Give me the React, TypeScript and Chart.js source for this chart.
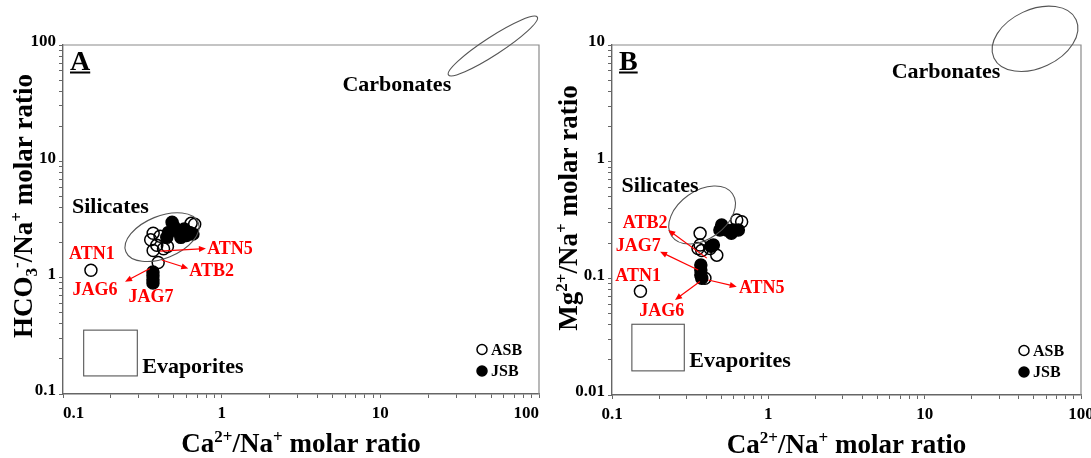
import React, { useEffect, useRef } from "react";
import { Chart, registerables } from "chart.js";

Chart.register(...registerables);

const FONT = "'Liberation Serif', 'Times New Roman', serif";

// ---------- shared ----------
const seriesNames = ["ASB", "JSB"];
const xMajorTicks = [0.1, 1, 10, 100];
const xTickLabels = ["0.1", "1", "10", "100"];
const aYMajorTicks = [0.1, 1, 10, 100];
const aYTickLabels = ["0.1", "1", "10", "100"];
const bYMajorTicks = [0.01, 0.1, 1, 10];
const bYTickLabels = ["0.01", "0.1", "1", "10"];
const regionNames = ["Silicates", "Carbonates", "Evaporites"];

// ---------- panel A : HCO3/Na vs Ca/Na ----------
const aAsbCa = [0.15, 0.37, 0.409, 0.357, 0.39, 0.37, 0.43, 0.398, 0.642, 0.676, 0.455];
const aAsbHco3 = [1.16, 2.41, 2.27, 2.12, 1.9, 1.71, 1.77, 1.35, 2.93, 2.88, 1.85];
const aJsbCa = [0.487, 0.451, 0.463, 0.525, 0.581, 0.627, 0.659, 0.553, 0.6, 0.5, 0.369, 0.369, 0.369, 0.369];
const aJsbHco3 = [2.99, 2.22, 2.45, 2.53, 2.62, 2.45, 2.37, 2.22, 2.3, 2.75, 1.12, 1.04, 0.96, 0.9];

const aSampleLabels = ["ATN1", "ATN5", "ATB2", "JAG6", "JAG7"];
const aSampleLabelX = [0.152, 1.128, 0.865, 0.159, 0.358];
const aSampleLabelY = [1.6, 1.76, 1.14, 0.782, 0.673];
const aArrowFromX = [0.409, 0.419, 0.353];
const aArrowFromY = [1.69, 1.42, 1.2];
const aArrowToX = [0.796, 0.616, 0.246];
const aArrowToY = [1.78, 1.2, 0.923];

const aRegionLabelX = [0.199, 12.7, 0.659];
const aRegionLabelY = [4.01, 45.3, 0.169];
// ellipses: centre (data), semi-axes (decades), rotation (deg)
const aSilicatesEllipse = [0.421, 2.23, 0.246, 0.181, -22];
const aCarbonatesEllipse = [51.2, 98.0, 0.334, 0.077, -33];
const aEvaporitesBox = [0.135, 0.294, 0.143, 0.354];

// ---------- panel B : Mg/Na vs Ca/Na ----------
const bAsbCa = [0.152, 0.366, 0.366, 0.375, 0.468, 0.424, 0.628, 0.675, 0.393, 0.355];
const bAsbMg = [0.0774, 0.243, 0.193, 0.173, 0.158, 0.18, 0.316, 0.306, 0.1, 0.18];
const bJsbCa = [0.503, 0.49, 0.541, 0.597, 0.58, 0.643, 0.445, 0.43, 0.37, 0.37, 0.37, 0.375];
const bJsbMg = [0.287, 0.26, 0.26, 0.26, 0.243, 0.26, 0.193, 0.188, 0.13, 0.118, 0.107, 0.1];

const bSampleLabels = ["ATB2", "JAG7", "ATN1", "ATN5", "JAG6"];
const bSampleLabelX = [0.163, 0.147, 0.147, 0.908, 0.208];
const bSampleLabelY = [0.296, 0.187, 0.1035, 0.0822, 0.0519];
const bArrowFromX = [0.404, 0.356, 0.413, 0.365];
const bArrowFromY = [0.149, 0.118, 0.0968, 0.0938];
const bArrowToX = [0.229, 0.203, 0.628, 0.253];
const bArrowToY = [0.26, 0.169, 0.0849, 0.0653];

const bRegionLabelX = [0.203, 13.7, 0.659];
const bRegionLabelY = [0.619, 5.87, 0.0196];
const bSilicatesEllipse = [0.377, 0.349, 0.237, 0.206, -35];
const bCarbonatesEllipse = [50.8, 11.3, 0.29, 0.25, -25];
const bEvaporitesBox = [0.134, 0.29, 0.0161, 0.0404];

type Seg = { t: string; k?: "sup" | "sub" };
const xTitleSegs: Seg[] = [
  { t: "Ca" }, { t: "2+", k: "sup" }, { t: "/Na" }, { t: "+", k: "sup" }, { t: " molar ratio" },
];
const aYTitleSegs: Seg[] = [
  { t: "HCO" }, { t: "3", k: "sub" }, { t: "-", k: "sup" }, { t: "/Na" }, { t: "+", k: "sup" }, { t: " molar ratio" },
];
const bYTitleSegs: Seg[] = [
  { t: "Mg" }, { t: "2+", k: "sup" }, { t: "/Na" }, { t: "+", k: "sup" }, { t: " molar ratio" },
];

function zip(xs: number[], ys: number[]) {
  return xs.map((x, i) => ({ x, y: ys[i] }));
}

function drawRich(ctx: CanvasRenderingContext2D, segs: Seg[], cx: number, cy: number, size: number, vertical: boolean) {
  const base = `bold ${size}px ${FONT}`;
  const small = `bold ${Math.round(size * 0.62)}px ${FONT}`;
  let w = 0;
  for (const s of segs) {
    ctx.font = s.k ? small : base;
    w += ctx.measureText(s.t).width;
  }
  ctx.save();
  ctx.translate(cx, cy);
  if (vertical) ctx.rotate(-Math.PI / 2);
  ctx.textAlign = "left";
  ctx.textBaseline = "alphabetic";
  ctx.fillStyle = "#000";
  let x = -w / 2;
  const baseY = size * 0.33;
  for (const s of segs) {
    ctx.font = s.k ? small : base;
    const dy = s.k === "sup" ? -size * 0.36 : s.k === "sub" ? size * 0.2 : 0;
    ctx.fillText(s.t, x, baseY + dy);
    x += ctx.measureText(s.t).width;
  }
  ctx.restore();
}

function drawArrow(ctx: CanvasRenderingContext2D, x1: number, y1: number, x2: number, y2: number) {
  const ang = Math.atan2(y2 - y1, x2 - x1);
  const hl = 7, hw = 3;
  ctx.beginPath();
  ctx.moveTo(x1, y1);
  ctx.lineTo(x2 - hl * Math.cos(ang) * 0.8, y2 - hl * Math.sin(ang) * 0.8);
  ctx.stroke();
  ctx.beginPath();
  ctx.moveTo(x2, y2);
  ctx.lineTo(x2 - hl * Math.cos(ang) + hw * Math.sin(ang), y2 - hl * Math.sin(ang) - hw * Math.cos(ang));
  ctx.lineTo(x2 - hl * Math.cos(ang) - hw * Math.sin(ang), y2 - hl * Math.sin(ang) + hw * Math.cos(ang));
  ctx.closePath();
  ctx.fill();
}

type PanelCfg = {
  letter: string;
  asbX: number[]; asbY: number[]; jsbX: number[]; jsbY: number[];
  yMin: number; yMax: number; yMajors: number[]; yLabels: string[];
  xAlign: "center" | "inner";
  padding: { left: number; right: number; top: number; bottom: number };
  yAxisWidth: number; xAxisHeight: number;
  sampleLabels: string[]; sampleX: number[]; sampleY: number[];
  arrowFromX: number[]; arrowFromY: number[]; arrowToX: number[]; arrowToY: number[];
  regionX: number[]; regionY: number[];
  silicates: number[]; carbonates: number[]; evaporites: number[];
  yTitle: Seg[]; yTitlePos: [number, number]; xTitleY: number;
};

function allTicks(majors: number[]) {
  const out: number[] = [];
  for (let i = 0; i < majors.length; i++) {
    out.push(majors[i]);
    if (i < majors.length - 1) for (let m = 2; m <= 9; m++) out.push(+(majors[i] * m).toPrecision(3));
  }
  return out;
}

function overlay(cfg: PanelCfg) {
  return {
    id: "overlay" + cfg.letter,
    afterDraw(chart: any) {
      const ctx: CanvasRenderingContext2D = chart.ctx;
      const xs = chart.scales.x, ys = chart.scales.y;
      const ca = chart.chartArea;
      const px = (v: number) => xs.getPixelForValue(v);
      const py = (v: number) => ys.getPixelForValue(v);
      const decX = px(10) - px(1);
      const decY = py(1) - py(10);
      ctx.save();
      // top & right frame
      ctx.strokeStyle = "#8a8a8a";
      ctx.lineWidth = 1.2;
      ctx.beginPath();
      ctx.moveTo(ca.left, ca.top);
      ctx.lineTo(ca.right, ca.top);
      ctx.lineTo(ca.right, ca.bottom);
      ctx.stroke();

      // regions
      ctx.strokeStyle = "#555";
      ctx.lineWidth = 1.1;
      for (const e of [cfg.silicates, cfg.carbonates]) {
        ctx.save();
        ctx.translate(px(e[0]), py(e[1]));
        ctx.rotate((e[4] * Math.PI) / 180);
        ctx.beginPath();
        ctx.ellipse(0, 0, e[2] * decX, e[3] * decY, 0, 0, Math.PI * 2);
        ctx.stroke();
        ctx.restore();
      }
      const b = cfg.evaporites;
      ctx.strokeRect(px(b[0]), py(b[3]), px(b[1]) - px(b[0]), py(b[2]) - py(b[3]));

      ctx.fillStyle = "#000";
      ctx.font = `bold 22px ${FONT}`;
      ctx.textAlign = "center";
      ctx.textBaseline = "middle";
      regionNames.forEach((n, i) => ctx.fillText(n, px(cfg.regionX[i]), py(cfg.regionY[i])));

      // red sample labels & arrows
      ctx.fillStyle = "#ff0000";
      ctx.strokeStyle = "#ff0000";
      ctx.lineWidth = 1.2;
      ctx.font = `bold 18px ${FONT}`;
      cfg.sampleLabels.forEach((n, i) => ctx.fillText(n, px(cfg.sampleX[i]), py(cfg.sampleY[i])));
      cfg.arrowFromX.forEach((_, i) =>
        drawArrow(ctx, px(cfg.arrowFromX[i]), py(cfg.arrowFromY[i]), px(cfg.arrowToX[i]), py(cfg.arrowToY[i]))
      );

      // panel letter
      ctx.fillStyle = "#000";
      ctx.strokeStyle = "#000";
      ctx.font = `bold 28px ${FONT}`;
      ctx.textAlign = "left";
      ctx.textBaseline = "alphabetic";
      const lx = ca.left + 7, ly = ca.top + 25;
      ctx.fillText(cfg.letter, lx, ly);
      const lw = ctx.measureText(cfg.letter).width;
      ctx.lineWidth = 2;
      ctx.beginPath();
      ctx.moveTo(lx, ly + 2.5);
      ctx.lineTo(lx + lw, ly + 2.5);
      ctx.stroke();

      // legend
      ctx.font = `bold 16px ${FONT}`;
      ctx.textBaseline = "middle";
      const legX = ca.right - 57;
      chart.data.datasets.forEach((ds: any, i: number) => {
        const y = ca.bottom - 44.5 + i * 21.5;
        ctx.beginPath();
        ctx.arc(legX, y, 5, 0, Math.PI * 2);
        ctx.lineWidth = 1.5;
        ctx.strokeStyle = "#000";
        if (ds.backgroundColor === "#000") {
          ctx.fillStyle = "#000";
          ctx.fill();
        }
        ctx.stroke();
        ctx.fillStyle = "#000";
        ctx.fillText(ds.label, legX + 9, y + 1);
      });

      // axis titles
      drawRich(ctx, xTitleSegs, (ca.left + ca.right) / 2, cfg.xTitleY, 27, false);
      drawRich(ctx, cfg.yTitle, cfg.yTitlePos[0], cfg.yTitlePos[1], 27, true);
      ctx.restore();
    },
  };
}

function makeChart(canvas: HTMLCanvasElement, cfg: PanelCfg) {
  const xTickVals = allTicks(xMajorTicks);
  const yTickVals = allTicks(cfg.yMajors);
  return new Chart(canvas, {
    type: "scatter",
    data: {
      datasets: [
        {
          label: seriesNames[0],
          data: zip(cfg.asbX, cfg.asbY),
          pointRadius: 6,
          pointHoverRadius: 6,
          borderColor: "#000",
          backgroundColor: "rgba(0,0,0,0)",
          borderWidth: 1.5,
          order: 2,
        },
        {
          label: seriesNames[1],
          data: zip(cfg.jsbX, cfg.jsbY),
          pointRadius: 6,
          pointHoverRadius: 6,
          borderColor: "#000",
          backgroundColor: "#000",
          borderWidth: 1.5,
          order: 1,
        },
      ],
    },
    options: {
      responsive: false,
      animation: false,
      devicePixelRatio: 1,
      events: [],
      layout: { padding: cfg.padding, autoPadding: false } as any,
      plugins: { legend: { display: false }, tooltip: { enabled: false } },
      scales: {
        x: {
          type: "logarithmic",
          min: 0.1,
          max: 100,
          afterBuildTicks: (s: any) => { s.ticks = xTickVals.map((v) => ({ value: v })); },
          afterFit: (s: any) => { s.height = cfg.xAxisHeight; s.paddingLeft = 0; s.paddingRight = 0; },
          grid: { drawOnChartArea: false, tickLength: 4, color: "#666", tickColor: "#666" },
          border: { color: "#666", width: 1.4 },
          ticks: {
            autoSkip: false,
            maxRotation: 0,
            minRotation: 0,
            padding: 5,
            align: cfg.xAlign as any,
            color: "#000",
            font: { family: FONT, size: 17, weight: "bold" },
            callback: (v: any) => {
              const i = xMajorTicks.findIndex((m) => Math.abs(m - v) / m < 1e-6);
              return i >= 0 ? xTickLabels[i] : "";
            },
          },
        },
        y: {
          type: "logarithmic",
          min: cfg.yMin,
          max: cfg.yMax,
          afterBuildTicks: (s: any) => { s.ticks = yTickVals.map((v) => ({ value: v })); },
          afterFit: (s: any) => { s.width = cfg.yAxisWidth; s.paddingTop = 0; s.paddingBottom = 0; },
          grid: { drawOnChartArea: false, tickLength: 4, color: "#666", tickColor: "#666" },
          border: { color: "#666", width: 1.4 },
          ticks: {
            autoSkip: false,
            padding: 3,
            labelOffset: -3,
            color: "#000",
            font: { family: FONT, size: 17, weight: "bold" },
            callback: (v: any) => {
              const i = cfg.yMajors.findIndex((m) => Math.abs(m - v) / m < 1e-6);
              return i >= 0 ? cfg.yLabels[i] : "";
            },
          },
        },
      },
    } as any,
    plugins: [overlay(cfg) as any],
  });
}

const panelA: PanelCfg = {
  letter: "A",
  asbX: aAsbCa, asbY: aAsbHco3, jsbX: aJsbCa, jsbY: aJsbHco3,
  yMin: 0.1, yMax: 100, yMajors: aYMajorTicks, yLabels: aYTickLabels,
  xAlign: "inner",
  padding: { left: 0, right: 21, top: 45, bottom: 0 },
  yAxisWidth: 63, xAxisHeight: 64,
  sampleLabels: aSampleLabels, sampleX: aSampleLabelX, sampleY: aSampleLabelY,
  arrowFromX: aArrowFromX, arrowFromY: aArrowFromY, arrowToX: aArrowToX, arrowToY: aArrowToY,
  regionX: aRegionLabelX, regionY: aRegionLabelY,
  silicates: aSilicatesEllipse, carbonates: aCarbonatesEllipse, evaporites: aEvaporitesBox,
  yTitle: aYTitleSegs, yTitlePos: [23, 206], xTitleY: 443,
};

const panelB: PanelCfg = {
  letter: "B",
  asbX: bAsbCa, asbY: bAsbMg, jsbX: bJsbCa, jsbY: bJsbMg,
  yMin: 0.01, yMax: 10, yMajors: bYMajorTicks, yLabels: bYTickLabels,
  xAlign: "center",
  padding: { left: 0, right: 10, top: 45, bottom: 0 },
  yAxisWidth: 67, xAxisHeight: 63,
  sampleLabels: bSampleLabels, sampleX: bSampleLabelX, sampleY: bSampleLabelY,
  arrowFromX: bArrowFromX, arrowFromY: bArrowFromY, arrowToX: bArrowToX, arrowToY: bArrowToY,
  regionX: bRegionLabelX, regionY: bRegionLabelY,
  silicates: bSilicatesEllipse, carbonates: bCarbonatesEllipse, evaporites: bEvaporitesBox,
  yTitle: bYTitleSegs, yTitlePos: [23, 208], xTitleY: 444,
};

export default function App() {
  const refA = useRef<HTMLCanvasElement>(null);
  const refB = useRef<HTMLCanvasElement>(null);
  useEffect(() => {
    const a = makeChart(refA.current!, panelA);
    const b = makeChart(refB.current!, panelB);
    return () => {
      a.destroy();
      b.destroy();
    };
  }, []);
  return (
    <div style={{ position: "absolute", left: 0, top: 0, width: 1091, height: 458, background: "#fff", overflow: "hidden" }}>
      <canvas ref={refA} width={560} height={458} style={{ position: "absolute", left: 0, top: 0, width: 560, height: 458 }} />
      <canvas ref={refB} width={546} height={458} style={{ position: "absolute", left: 545, top: 0, width: 546, height: 458 }} />
    </div>
  );
}
